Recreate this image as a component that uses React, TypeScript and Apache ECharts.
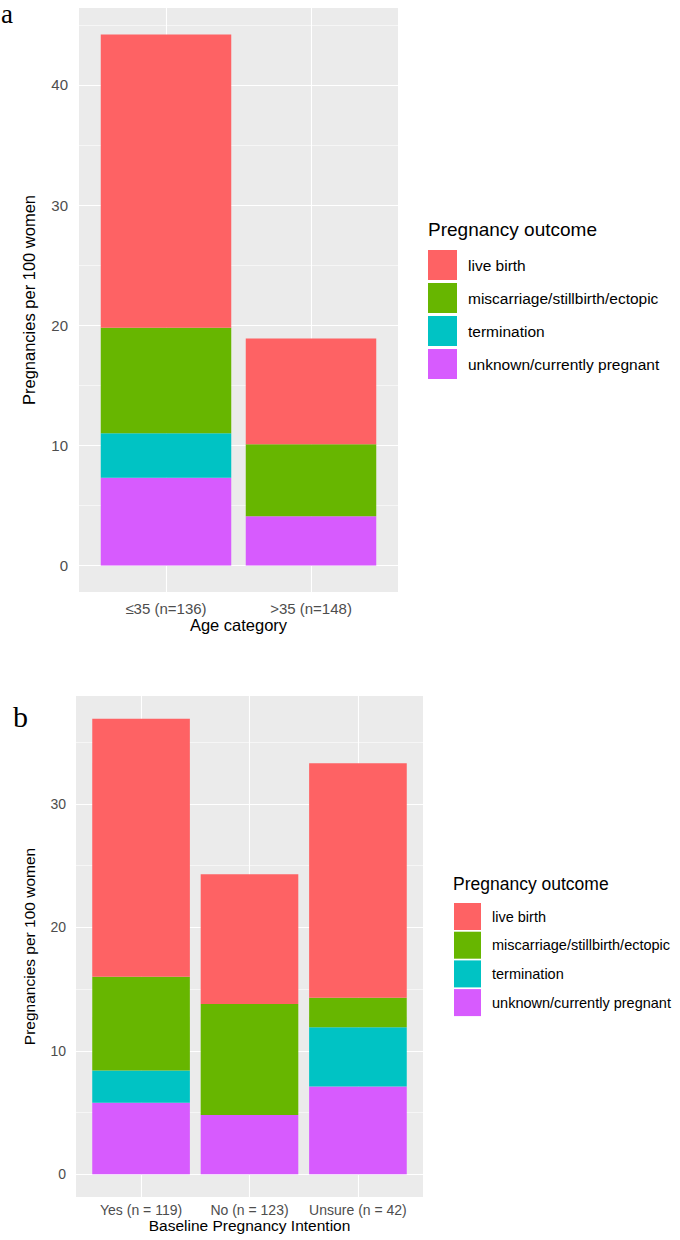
import React, { useEffect, useRef } from 'react';
import * as echarts from 'echarts';

// ---- data ----
const outcomes = ['live birth', 'miscarriage/stillbirth/ectopic', 'termination', 'unknown/currently pregnant'];
const outcomeColors = ['#FE6264', '#67B600', '#00C3C4', '#D75BFE'];

const ageCategories = ['≤35 (n=136)', '>35 (n=148)'];
const ageLiveBirth = [24.4, 8.8];
const ageMiscarriage = [8.8, 6.0];
const ageTermination = [3.7, 0];
const ageUnknown = [7.3, 4.1];
const ageTicks = [0, 10, 20, 30, 40];
const ageMinorTicks = [5, 15, 25, 35, 45];

const intentCategories = ['Yes (n = 119)', 'No (n = 123)', 'Unsure (n = 42)'];
const intentLiveBirth = [20.9, 10.5, 19.0];
const intentMiscarriage = [7.6, 9.0, 2.4];
const intentTermination = [2.6, 0, 4.8];
const intentUnknown = [5.8, 4.8, 7.1];
const intentTicks = [0, 10, 20, 30];
const intentMinorTicks = [5, 15, 25, 35];

const yTitle = 'Pregnancies per 100 women';
const legendTitle = 'Pregnancy outcome';

const FONT = "'Liberation Sans', Arial, Helvetica, sans-serif";
const SERIF = "'Liberation Serif', 'Times New Roman', serif";

type PanelCfg = {
  idx: number;
  cats: string[];
  stacks: number[][]; // order: live, misc, term, unknown
  ticks: number[];
  minors: number[];
  xName: string;
  grid: { left: number; top: number; width: number; height: number };
  tickFont: number;
  titleFont: number;
  labelMarginX: number;
  labelMarginY: number;
  xNameGap: number;
  yNameGap: number;
};

function buildPanel(c: PanelCfg) {
  const totals = c.cats.map((_, j) => c.stacks.reduce((s, arr) => s + arr[j], 0));
  const maxT = Math.max(...totals);
  const yMin = -0.05 * maxT;
  const yMax = maxT * 1.05;
  const grid = {
    left: c.grid.left,
    top: c.grid.top,
    width: c.grid.width,
    height: c.grid.height,
    show: true,
    backgroundColor: '#EBEBEB',
    borderWidth: 0,
  };
  const catIdx = c.cats.map((_, j) => j);
  const xAxis = {
    type: 'value',
    gridIndex: c.idx,
    min: -0.6,
    max: c.cats.length - 1 + 0.6,
    name: c.xName,
    nameLocation: 'middle',
    nameGap: c.xNameGap,
    nameTextStyle: { color: '#000', fontSize: c.titleFont, fontFamily: FONT },
    axisLine: { show: false },
    axisTick: { show: true, length: 4, customValues: catIdx, lineStyle: { color: '#333', width: 1 } },
    axisLabel: {
      customValues: catIdx,
      formatter: (v: number) => c.cats[Math.round(v)] ?? '',
      color: '#4D4D4D',
      fontSize: c.tickFont,
      fontFamily: FONT,
      margin: c.labelMarginX,
    },
    splitLine: { show: false },
  };
  const yAxis = {
    type: 'value',
    gridIndex: c.idx,
    min: yMin,
    max: yMax,
    name: yTitle,
    nameLocation: 'middle',
    nameGap: c.yNameGap,
    nameTextStyle: { color: '#000', fontSize: c.titleFont, fontFamily: FONT },
    axisLine: { show: false },
    axisTick: { show: true, length: 4, customValues: c.ticks, lineStyle: { color: '#333', width: 1 } },
    axisLabel: {
      customValues: c.ticks,
      color: '#4D4D4D',
      fontSize: c.tickFont,
      fontFamily: FONT,
      margin: c.labelMarginY,
    },
    splitLine: { show: false },
  };
  const stackName = 'stack' + c.idx;
  // bottom to top: unknown, termination, miscarriage, live birth
  const order = [3, 2, 1, 0];
  const bars = order.map((k) => ({
    type: 'bar',
    name: outcomes[k],
    xAxisIndex: c.idx,
    yAxisIndex: c.idx,
    stack: stackName,
    barWidth: '90%',
    itemStyle: { color: outcomeColors[k] },
    // value first so that the stacked dimension is the y value
    dimensions: ['val', 'pos'],
    encode: { x: 'pos', y: 'val' },
    data: c.stacks[k].map((v, j) => [v, j]),
    z: 2,
  }));
  const gridLines = {
    type: 'line',
    name: 'grid' + c.idx,
    xAxisIndex: c.idx,
    yAxisIndex: c.idx,
    data: [],
    z: 1,
    silent: true,
    markLine: {
      z: 1,
      silent: true,
      animation: false,
      symbol: ['none', 'none'],
      label: { show: false },
      lineStyle: { color: '#FFFFFF', type: 'solid', width: 1.1 },
      emphasis: { disabled: true },
      data: [
        ...c.minors.map((v) => ({ yAxis: v, lineStyle: { color: '#FFFFFF', type: 'solid', width: 0.55 } })),
        ...c.ticks.map((v) => ({ yAxis: v, lineStyle: { color: '#FFFFFF', type: 'solid', width: 1.1 } })),
        ...catIdx.map((v) => ({ xAxis: v, lineStyle: { color: '#FFFFFF', type: 'solid', width: 1.1 } })),
      ],
    },
  };
  return { grid, xAxis, yAxis, series: [gridLines, ...bars] };
}

export default function App() {
  const ref = useRef<HTMLDivElement>(null);
  useEffect(() => {
    document.body.style.margin = '0';
    if (!ref.current) return;
    const chart = echarts.init(ref.current, undefined, { renderer: 'svg' });

    const top = buildPanel({
      idx: 0,
      cats: ageCategories,
      stacks: [ageLiveBirth, ageMiscarriage, ageTermination, ageUnknown],
      ticks: ageTicks,
      minors: ageMinorTicks,
      xName: 'Age category',
      grid: { left: 79, top: 8, width: 319, height: 584 },
      tickFont: 15,
      titleFont: 16.5,
      labelMarginX: 9,
      labelMarginY: 11,
      xNameGap: 24,
      yNameGap: 42,
    });
    const bottom = buildPanel({
      idx: 1,
      cats: intentCategories,
      stacks: [intentLiveBirth, intentMiscarriage, intentTermination, intentUnknown],
      ticks: intentTicks,
      minors: intentMinorTicks,
      xName: 'Baseline Pregnancy Intention',
      grid: { left: 76, top: 696, width: 347, height: 501 },
      tickFont: 14,
      titleFont: 15.5,
      labelMarginX: 6,
      labelMarginY: 10,
      xNameGap: 17,
      yNameGap: 39,
    });

    const option = {
      animation: false,
      backgroundColor: '#FFFFFF',
      title: [
        { text: legendTitle, left: 428, top: 220, padding: 0, textStyle: { color: '#000', fontSize: 19, fontWeight: 'normal', fontFamily: FONT } },
        { text: legendTitle, left: 453, top: 875, padding: 0, textStyle: { color: '#000', fontSize: 17.5, fontWeight: 'normal', fontFamily: FONT } },
      ],
      legend: [
        {
          data: outcomes,
          orient: 'vertical',
          left: 428,
          top: 250,
          padding: 0,
          icon: 'rect',
          itemWidth: 29,
          itemHeight: 30,
          itemGap: 3,
          selectedMode: false,
          textStyle: { color: '#000', fontSize: 15.5, fontFamily: FONT, padding: [0, 0, 0, 6] },
        },
        {
          data: outcomes,
          orient: 'vertical',
          left: 454,
          top: 903,
          padding: 0,
          icon: 'rect',
          itemWidth: 27,
          itemHeight: 27,
          itemGap: 1.7,
          selectedMode: false,
          textStyle: { color: '#000', fontSize: 14.5, fontFamily: FONT, padding: [0, 0, 0, 6] },
        },
      ],
      graphic: [
        { type: 'text', left: 1, top: 0, style: { text: 'a', fontSize: 27, fontFamily: SERIF, fill: '#000' } },
        { type: 'text', left: 13, top: 701, style: { text: 'b', fontSize: 30, fontFamily: SERIF, fill: '#000' } },
      ],
      grid: [top.grid, bottom.grid],
      xAxis: [top.xAxis, bottom.xAxis],
      yAxis: [top.yAxis, bottom.yAxis],
      series: [...top.series, ...bottom.series],
    };
    chart.setOption(option as any);
    return () => chart.dispose();
  }, []);
  return <div ref={ref} style={{ width: 680, height: 1240 }} />;
}
